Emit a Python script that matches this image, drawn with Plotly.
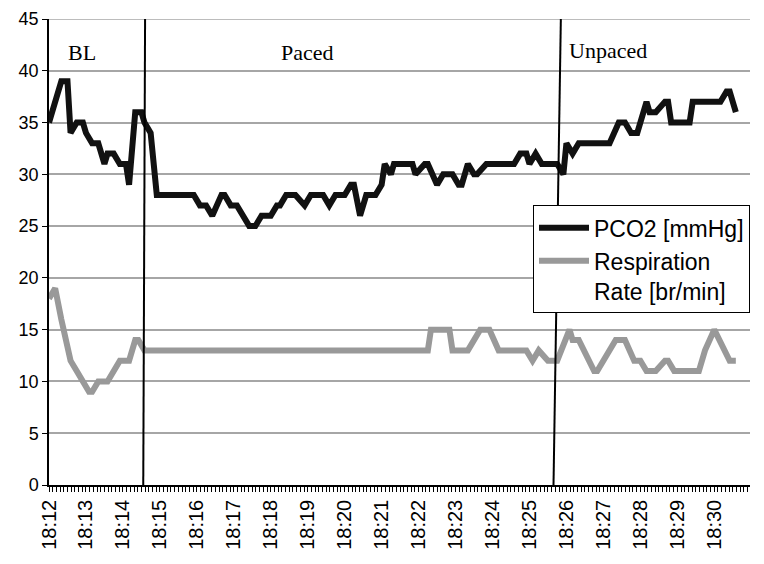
import plotly.graph_objects as go

DAY = "2000-01-01 "

# PCO2 [mmHg]
pco2_times = ["18:12:00", "18:12:20", "18:12:30", "18:12:35", "18:12:45", "18:12:55", "18:13:00",
              "18:13:10", "18:13:20", "18:13:30", "18:13:35", "18:13:45", "18:13:55", "18:14:05",
              "18:14:10", "18:14:20", "18:14:30", "18:14:35", "18:14:45", "18:14:55", "18:15:55",
              "18:16:05", "18:16:15", "18:16:25", "18:16:40", "18:16:45", "18:16:55", "18:17:05",
              "18:17:25", "18:17:35", "18:17:45", "18:18:00", "18:18:10", "18:18:15", "18:18:25",
              "18:18:40", "18:18:55", "18:19:05", "18:19:25", "18:19:35", "18:19:45", "18:20:00",
              "18:20:10", "18:20:15", "18:20:25", "18:20:35", "18:20:50", "18:21:00", "18:21:05",
              "18:21:15", "18:21:20", "18:21:50", "18:21:55", "18:22:10", "18:22:15", "18:22:30",
              "18:22:40", "18:22:55", "18:23:05", "18:23:10", "18:23:20", "18:23:30", "18:23:35",
              "18:23:50", "18:24:35", "18:24:45", "18:24:55", "18:25:00", "18:25:10", "18:25:20",
              "18:25:45", "18:25:55", "18:26:00", "18:26:10", "18:26:20", "18:27:10", "18:27:25",
              "18:27:35", "18:27:45", "18:27:55", "18:28:10", "18:28:15", "18:28:25", "18:28:40",
              "18:28:45", "18:28:50", "18:29:20", "18:29:25", "18:30:10", "18:30:20", "18:30:25",
              "18:30:35"]
pco2_values = [35, 39, 39, 34, 35, 35, 34,
               33, 33, 31, 32, 32, 31, 31,
               29, 36, 36, 35, 34, 28, 28,
               27, 27, 26, 28, 28, 27, 27,
               25, 25, 26, 26, 27, 27, 28,
               28, 27, 28, 28, 27, 28, 28,
               29, 29, 26, 28, 28, 29, 31,
               30, 31, 31, 30, 31, 31, 29,
               30, 30, 29, 29, 31, 30, 30,
               31, 31, 32, 32, 31, 32, 31,
               31, 30, 33, 32, 33, 33, 35,
               35, 34, 34, 37, 36, 36, 37,
               37, 35, 35, 37, 37, 38, 38,
               36]

# Respiration Rate [br/min]
resp_times = ["18:12:00", "18:12:10", "18:12:20", "18:12:35", "18:12:45", "18:12:55", "18:13:05",
              "18:13:10", "18:13:20", "18:13:35", "18:13:55", "18:14:10", "18:14:20", "18:14:25",
              "18:14:35", "18:22:15", "18:22:20", "18:22:50", "18:22:55", "18:23:20", "18:23:40",
              "18:23:55", "18:24:10", "18:24:55", "18:25:05", "18:25:15", "18:25:30", "18:25:45",
              "18:26:05", "18:26:10", "18:26:20", "18:26:45", "18:26:50", "18:27:20", "18:27:35",
              "18:27:50", "18:28:00", "18:28:10", "18:28:25", "18:28:40", "18:28:45", "18:28:55",
              "18:29:35", "18:29:45", "18:30:00", "18:30:25", "18:30:35"]
resp_values = [18, 19, 16, 12, 11, 10, 9,
               9, 10, 10, 12, 12, 14, 14,
               13, 13, 15, 15, 13, 13, 15,
               15, 13, 13, 12, 13, 12, 12,
               15, 14, 14, 11, 11, 14, 14,
               12, 12, 11, 11, 12, 12, 11,
               11, 13, 15, 12, 12]

# Phase markers (drawn lines: bottom time, top time)
phase_lines = [("18:14:33", "18:14:36"), ("18:25:39", "18:25:51")]
phase_labels = ["BL", "Paced", "Unpaced"]
phase_label_times = ["18:12:54", "18:18:59", "18:27:08"]
phase_label_y = [41.8, 41.8, 42.0]

y_ticks = [0, 5, 10, 15, 20, 25, 30, 35, 40, 45]
x_tick_labels = ["18:%02d" % m for m in range(12, 31)]

fig = go.Figure()
fig.add_trace(go.Scatter(
    x=[DAY + t for t in pco2_times], y=pco2_values, mode="lines",
    name="PCO2 [mmHg]", line=dict(color="#111111", width=6)))
fig.add_trace(go.Scatter(
    x=[DAY + t for t in resp_times], y=resp_values, mode="lines",
    name="Respiration<br>Rate [br/min]", line=dict(color="#999999", width=6)))

for b, t in phase_lines:
    fig.add_shape(type="line", x0=DAY + b, x1=DAY + t, y0=0, y1=45.3,
                  xref="x", yref="y", line=dict(color="black", width=2))

# top gridline at the upper end of the range
fig.add_shape(type="line", x0=0, x1=1, xref="paper", y0=y_ticks[-1], y1=y_ticks[-1],
              yref="y", line=dict(color="#a6a6a6", width=1.5), layer="below")

for lab, t, yv in zip(phase_labels, phase_label_times, phase_label_y):
    fig.add_annotation(x=DAY + t, y=yv, text=lab, showarrow=False,
                       font=dict(family="Liberation Serif", size=22, color="black"),
                       xanchor="center", yanchor="middle")

fig.update_layout(
    width=756, height=556,
    margin=dict(l=41, r=14, t=11, b=79, autoexpand=False),
    paper_bgcolor="white", plot_bgcolor="white",
    font=dict(family="Liberation Sans, Arial", size=19, color="black"),
    legend=dict(x=1.0, y=0.6, xanchor="right", yanchor="top",
                bgcolor="white", bordercolor="black", borderwidth=1,
                font=dict(size=23, color="black"), valign="top",
                itemwidth=50, tracegroupgap=2),
    showlegend=True,
)
fig.update_xaxes(
    type="date", automargin=False,
    range=[DAY + "18:12:00", DAY + "18:30:58"],
    tickvals=[DAY + s + ":00" for s in x_tick_labels],
    ticktext=x_tick_labels,
    tickangle=-90,
    ticks="outside", ticklen=5, tickcolor="black", tickwidth=1,
    minor=dict(dtick=6000, ticks="outside", ticklen=5, tickcolor="black", tickwidth=1,
               tick0=DAY + "18:12:00", showgrid=False),
    showline=True, linecolor="black", linewidth=1.5,
    showgrid=False, zeroline=False,
    tickfont=dict(size=20),
    ticklabeloverflow="allow",
)
fig.update_yaxes(
    range=[0, 45], tickvals=y_ticks, automargin=False,
    ticks="outside", ticklen=5, tickcolor="black",
    showline=True, linecolor="black", linewidth=1.5,
    showgrid=True, gridcolor="#a6a6a6", gridwidth=1.5,
    zeroline=False,
    tickfont=dict(size=18),
    ticklabeloverflow="allow",
)

fig.write_html("out.html")
